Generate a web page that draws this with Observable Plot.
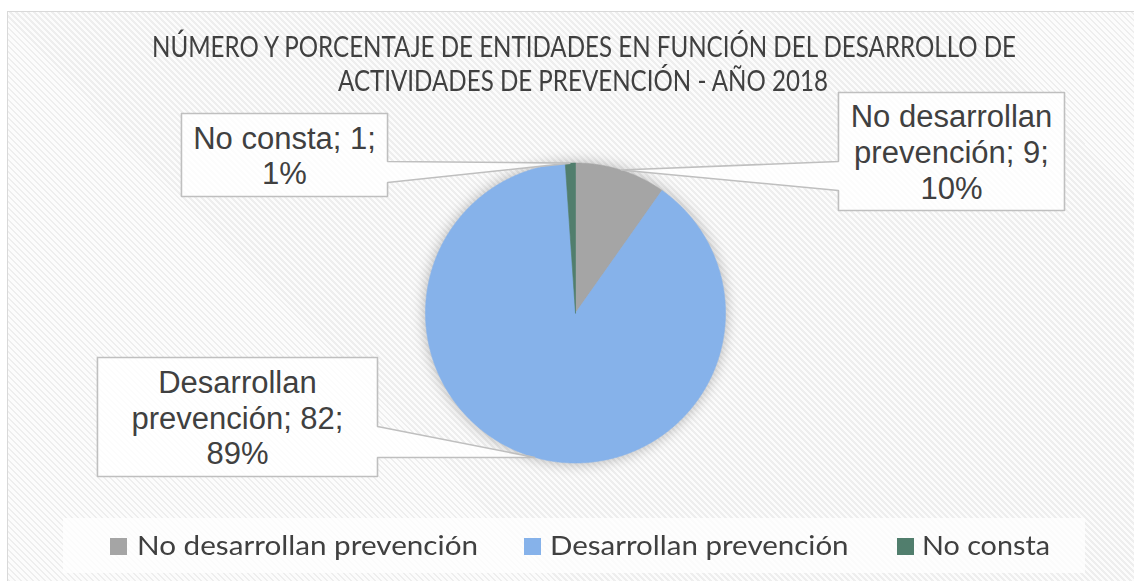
<!DOCTYPE html>
<html>
<head>
<meta charset="utf-8">
<script src="https://cdn.jsdelivr.net/npm/d3@7"></script>
<script src="https://cdn.jsdelivr.net/npm/@observablehq/plot@0.6"></script>
<style>
  html, body { margin: 0; padding: 0; background: #fff; }
  #wrap { position: relative; width: 1134px; height: 581px; overflow: hidden; background: #fff; }
  #bg { position: absolute; left: 7px; top: 11px; width: 1200px; height: 650px;
        border: 1.5px solid #d9d9d9;
        background: repeating-linear-gradient(45deg, #fcfcfc 0px, #fcfcfc 2.4px, #eeeeee 2.4px, #eeeeee 4.24px); }
  #chart { position: absolute; left: 0; top: 0; }
  .t { position: absolute; white-space: nowrap; line-height: 1; transform-origin: 0 0; }
  .title { font-family: Lato, "Noto Sans", sans-serif; color: #404040; font-size: 28.5px; }
  #legendbox { position: absolute; left: 63px; top: 518px; width: 1022px; height: 55px; background: rgba(255,255,255,0.75); }
  .sw { position: absolute; width: 17px; height: 17px; }
  .lg { font-family: Lato, "Noto Sans", sans-serif; color: #404040; font-size: 27.5px; }
</style>
</head>
<body>
<div id="wrap">
  <div id="bg"></div>
  <div id="chart"></div>
</div>
<script>
// ---- data ----
const categories = ["No desarrollan prevención", "Desarrollan prevención", "No consta"];
const counts = [9, 82, 1];
const labelWrap = ["No desarrollan\nprevención", "Desarrollan\nprevención", "No consta"];
const colors = ["#a5a5a5", "#86b2ea", "#517e6d"];
const titleLines = ["NÚMERO Y PORCENTAJE DE ENTIDADES EN FUNCIÓN DEL DESARROLLO DE", "ACTIVIDADES DE PREVENCIÓN - AÑO 2018"];

// ---- layout (radius units relative to the pie centre, y up) ----
const calloutLayout = {
  "No desarrollan prevención": {x0: 1.753, x1: 3.26, y0: 0.683, y1: 1.47, side: "left", jHi: 1.01, jLo: 0.817},
  "Desarrollan prevención": {x0: -3.187, x1: -1.32, y0: -1.09, y1: -0.297, side: "right", jHi: -0.757, jLo: -0.963},
  "No consta": {x0: -2.627, x1: -1.253, y0: 0.777, y1: 1.33, side: "right", jHi: 1.01, jLo: 0.87}
};
const W = 1134, H = 581, CX = 575, CY = 312.5, R = 150;

const total = d3.sum(counts);
const pct = d3.format(".0%");
const arcs = d3.pie().sort(null).value(d => d)(counts);

// pie slice polygons
const pieData = [];
arcs.forEach((a, i) => {
  const cat = categories[i];
  pieData.push({category: cat, x: 0, y: 0});
  const n = Math.max(2, Math.ceil((a.endAngle - a.startAngle) / 0.005));
  for (let k = 0; k <= n; k++) {
    const t = a.startAngle + (a.endAngle - a.startAngle) * k / n;
    pieData.push({category: cat, x: Math.sin(t), y: Math.cos(t)});
  }
  pieData.push({category: cat, x: 0, y: 0});
});

// callouts
const calloutData = [];
const labelData = [];
arcs.forEach((a, i) => {
  const cat = categories[i];
  const L = calloutLayout[cat];
  const m = (a.startAngle + a.endAngle) / 2;
  const tip = [Math.sin(m), Math.cos(m)];
  let pts;
  if (L.side === "right") {
    pts = [[L.x0, L.y1], [L.x1, L.y1], [L.x1, L.jHi], tip, [L.x1, L.jLo], [L.x1, L.y0], [L.x0, L.y0], [L.x0, L.y1]];
  } else {
    pts = [[L.x0, L.y1], [L.x1, L.y1], [L.x1, L.y0], [L.x0, L.y0], [L.x0, L.jLo], tip, [L.x0, L.jHi], [L.x0, L.y1]];
  }
  pts.forEach(p => calloutData.push({category: cat, x: p[0], y: p[1]}));
  labelData.push({
    category: cat,
    x: (L.x0 + L.x1) / 2,
    y: (L.y0 + L.y1) / 2,
    text: `${labelWrap[i]}; ${counts[i]};\n${pct(counts[i] / total)}`
  });
});

const plot = Plot.plot({
  width: W, height: H, margin: 0,
  style: {background: "transparent", overflow: "visible"},
  x: {domain: [-CX / R, (W - CX) / R], axis: null},
  y: {domain: [-(H - CY) / R, CY / R], axis: null},
  color: {domain: categories, range: colors},
  marks: [
    Plot.line(pieData, {x: "x", y: "y", z: "category", fill: "category", stroke: "category", strokeWidth: 0.6}),
    Plot.line(calloutData, {x: "x", y: "y", z: "category", fill: "white", fillOpacity: 0.8, stroke: "#bfbfbf", strokeWidth: 1.6, strokeLinejoin: "miter"}),
    Plot.text(labelData, {x: "x", y: "y", text: "text", lineAnchor: "middle", lineHeight: 1.16, fontSize: 31,
      fontFamily: "'Liberation Sans', Arial, sans-serif", fill: "#404040"})
  ]
});
document.getElementById("chart").appendChild(plot);
const lines = plot.querySelectorAll('g[aria-label="line"]');
if (lines[0]) lines[0].style.filter = "drop-shadow(0px 0px 7px rgba(0,0,0,0.28))";

// ---- title & legend (HTML) ----
const wrap = document.getElementById("wrap");
function addText(cls, txt, left, baseline, size, targetW) {
  const d = document.createElement("div");
  d.className = "t " + cls;
  d.textContent = txt;
  d.style.left = left + "px";
  d.style.top = (baseline - 0.887 * size) + "px";
  wrap.appendChild(d);
  const w = d.getBoundingClientRect().width;
  if (targetW && w > 0) d.style.transform = `scaleX(${targetW / w})`;
  return d;
}
addText("title", titleLines[0], 151.7, 57.3, 28.5, 864);
addText("title", titleLines[1], 337.7, 91.7, 28.5, 490);

const lb = document.createElement("div");
lb.id = "legendbox";
wrap.appendChild(lb);
const legendPos = [
  {sw: 110, tx: 136.7, w: 341},
  {sw: 524, tx: 550.4, w: 298.6},
  {sw: 897, tx: 921.6, w: 128}
];
categories.forEach((c, i) => {
  const s = document.createElement("div");
  s.className = "sw";
  s.style.left = legendPos[i].sw + "px";
  s.style.top = "537.5px";
  s.style.background = colors[i];
  wrap.appendChild(s);
  addText("lg", c, legendPos[i].tx, 555, 27.5, legendPos[i].w);
});
</script>
</body>
</html>
